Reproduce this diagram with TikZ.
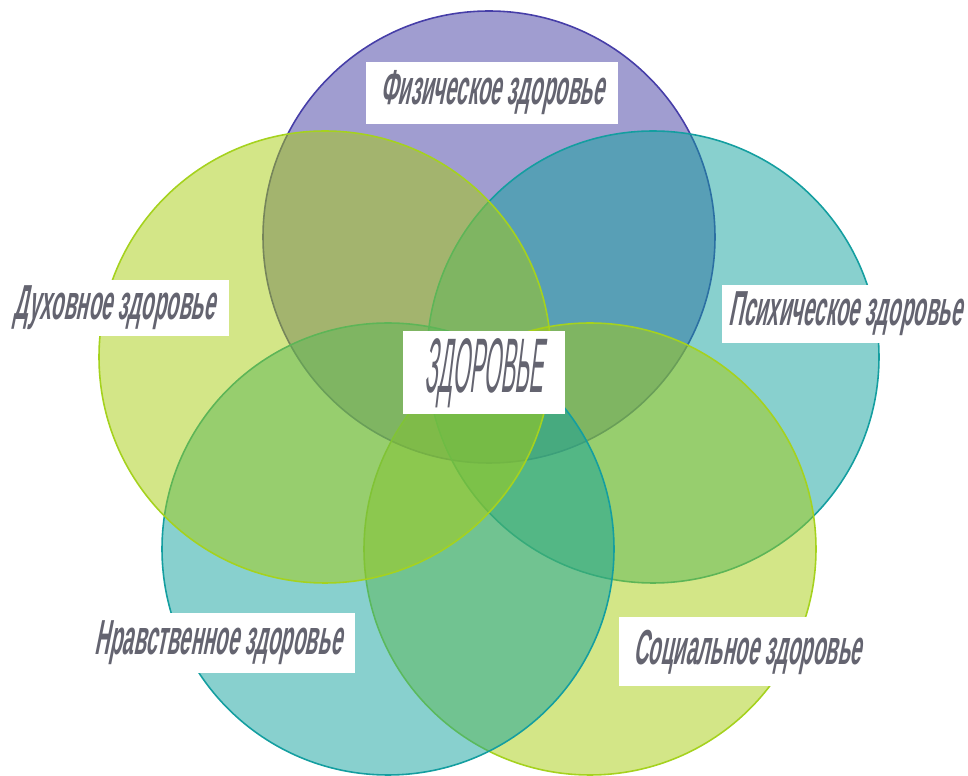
\documentclass[tikz,border=0pt]{standalone}
\usepackage{fontspec}
\newfontfamily\lblfont{Liberation Sans Bold}[FakeStretch=0.415,FakeSlant=0.2]
\newfontfamily\mainfont{Liberation Sans}[FakeStretch=0.28,FakeSlant=0.12]
\definecolor{purp}{RGB}{65,59,161}
\definecolor{purpline}{RGB}{70,62,168}
\definecolor{teal}{RGB}{17,161,157}
\definecolor{tealline}{RGB}{20,158,160}
\definecolor{lime}{RGB}{167,205,15}
\definecolor{limeline}{RGB}{165,210,30}
\definecolor{txtgray}{RGB}{100,100,112}
\tikzset{
  ring/.style={line width=0.9pt, fill opacity=0.5},
  lbl/.style={fill=white, text=txtgray, inner xsep=8pt, font=\lblfont\fontsize{28}{30}\selectfont}
}
\begin{document}
\begin{tikzpicture}[x=0.02cm,y=-0.02cm,declare function={r=226;}]
    \useasboundingbox (0,0) rectangle (968,776);
    \coordinate (F) at (489,237);
    \coordinate (Ps) at (653,357);
    \coordinate (D) at (325,357);
    \coordinate (N) at (388,549);
    \coordinate (S) at (590,549);
    % lime over teal, teal over purple
    \filldraw[ring, fill=purp, draw=purpline] (F) circle[radius=r];
    \filldraw[ring, fill=teal, draw=tealline] (Ps) circle[radius=r];
    \filldraw[ring, fill=lime, draw=limeline] (S) circle[radius=r];
    \filldraw[ring, fill=teal, draw=tealline] (N) circle[radius=r];
    \filldraw[ring, fill=lime, draw=limeline] (D) circle[radius=r];
    \node[lbl, minimum height=62*0.02cm] (phys) at (492,93) {Физическое здоровье};
    \node[lbl, minimum height=51*0.02cm] (spirit) at (114,308) {Духовное здоровье};
    \node[lbl, minimum height=58*0.02cm, inner xsep=3.5pt] (psych) at (845,314) {Психическое здоровье};
    \node[lbl, minimum height=60*0.02cm] (moral) at (218,643) {Нравственное здоровье};
    \node[lbl, minimum height=69*0.02cm] (social) at (747,652) {Социальное здоровье};
    \node[lbl, minimum height=83*0.02cm, inner xsep=12.5pt, font=\mainfont\fontsize{44}{46}\selectfont] (health) at (484,373) {ЗДОРОВЬЕ};
\end{tikzpicture}
\end{document}
